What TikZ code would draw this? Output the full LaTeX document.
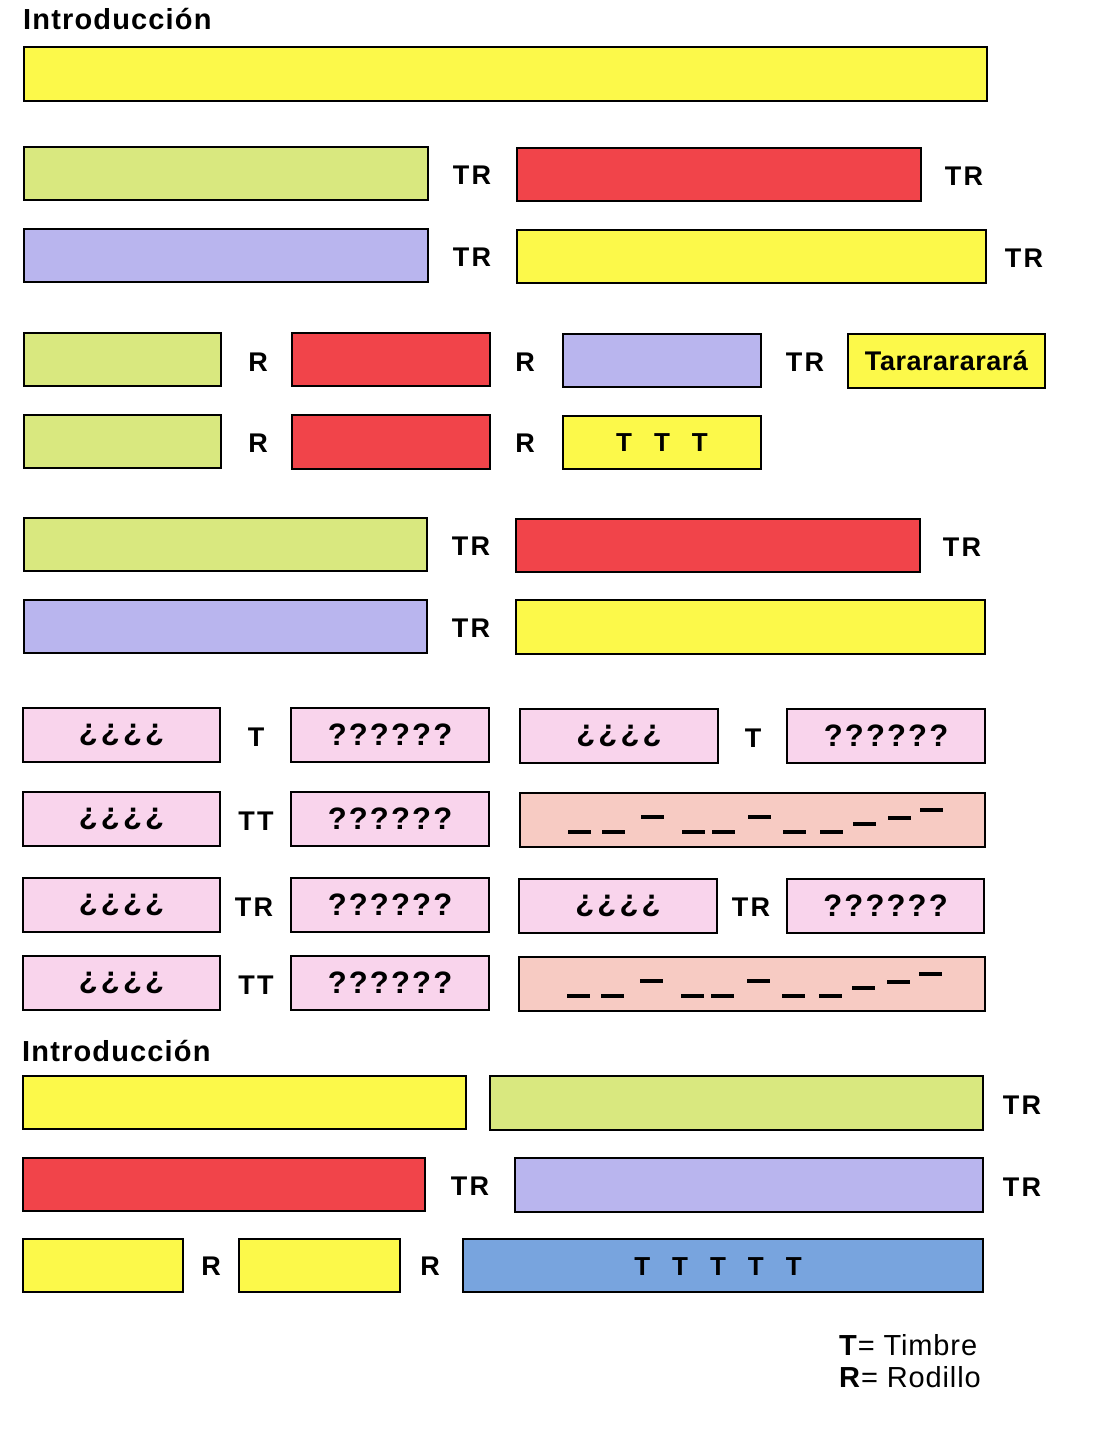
\documentclass[tikz,border=0pt]{standalone}
\usepackage{fontspec}
\setmainfont{Liberation Sans}
\definecolor{cy}{HTML}{FCF94A}
\definecolor{cg}{HTML}{D9E87F}
\definecolor{cr}{HTML}{F1444A}
\definecolor{cl}{HTML}{B9B5EE}
\definecolor{cp}{HTML}{F9D4EC}
\definecolor{cs}{HTML}{F7CBC3}
\definecolor{cb}{HTML}{78A4DE}
\newcommand\bx[7][]{\node[box,fill=#7,minimum width={(#5-#3)*1pt},minimum height={(#6-#4)*1pt},#1] (#2) at (#3,#4) {};}
\newcommand\bt[8][]{\node[box,fill=#7,minimum width={(#5-#3)*1pt},minimum height={(#6-#4)*1pt},#1] (#2) at (#3,#4) {#8};}
\begin{document}
\begin{tikzpicture}[x=1pt,y=-1pt,
  box/.style={draw=black,line width=2pt,inner sep=0pt,outer sep=0pt,anchor=north west,font=\bfseries\fontsize{31}{31}\selectfont\addfontfeature{LetterSpace=7}},
  inv/.style={font=\bfseries\fontsize{31}{31}\selectfont\addfontfeature{LetterSpace=10}},
  lab/.style={font=\bfseries\fontsize{27}{27}\selectfont\addfontfeature{LetterSpace=8},inner sep=0pt},
  ttl/.style={font=\bfseries\fontsize{29}{29}\selectfont\addfontfeature{LetterSpace=4},anchor=west,inner sep=0pt},
  dsh/.style={line width=4pt,line cap=butt},
  tt/.style={font=\bfseries\fontsize{26}{26}\selectfont}]
\useasboundingbox[fill=white] (0,0) rectangle (1117,1447);
\node[ttl] (t1) at (23,19) {Introducción};
% row 1
\bx{a1}{24}{47}{987}{101}{cy}
% row 2
\bx{b1}{24}{147}{428}{200}{cg}
\node[lab] (lb1) at (472,175) {TR};
\bx{b2}{517}{148}{921}{201}{cr}
\node[lab] (lb2) at (964,176) {TR};
% row 3
\bx{c1}{24}{229}{428}{282}{cl}
\node[lab] (lc1) at (472,257) {TR};
\bx{c2}{517}{230}{986}{283}{cy}
\node[lab] (lc2) at (1024,258) {TR};
% row 4
\bx{d1}{24}{333}{221}{386}{cg}
\node[lab] (ld1) at (258,362) {R};
\bx{d2}{292}{333}{490}{386}{cr}
\node[lab] (ld2) at (525,362) {R};
\bx{d3}{563}{334}{761}{387}{cl}
\node[lab] (ld3) at (805,362) {TR};
\bt[font=\bfseries\fontsize{27}{27}\selectfont\addfontfeature{LetterSpace=2}]{d4}{848}{334}{1045}{388}{cy}{Tararararará}
% row 5
\bx{e1}{24}{415}{221}{468}{cg}
\node[lab] (le1) at (258,443) {R};
\bx{e2}{292}{415}{490}{469}{cr}
\node[lab] (le2) at (525,443) {R};
\bt[font=\bfseries\fontsize{26}{26}\selectfont]{e3}{563}{416}{761}{469}{cy}{T\hspace{22pt}T\hspace{22pt}T}
% row 6
\bx{f1}{24}{518}{427}{571}{cg}
\node[lab] (lf1) at (471,546) {TR};
\bx{f2}{516}{519}{920}{572}{cr}
\node[lab] (lf2) at (962,547) {TR};
% row 7
\bx{g1}{24}{600}{427}{653}{cl}
\node[lab] (lg1) at (471,628) {TR};
\bx{g2}{516}{600}{985}{654}{cy}
% row 8
\bt[inv]{h1}{23}{708}{220}{762}{cp}{¿¿¿¿}
\node[lab] (lh1) at (256,737) {T};
\bt{h2}{291}{708}{489}{762}{cp}{??????}
\bt[inv]{h3}{520}{709}{718}{763}{cp}{¿¿¿¿}
\node[lab] (lh2) at (753,738) {T};
\bt{h4}{787}{709}{985}{763}{cp}{??????}
% row 9
\bt[inv]{i1}{23}{792}{220}{846}{cp}{¿¿¿¿}
\node[lab] (li1) at (256,821) {TT};
\bt{i2}{291}{792}{489}{846}{cp}{??????}
\bx{i3}{520}{793}{985}{847}{cs}
% row 10
\bt[inv]{j1}{23}{878}{220}{932}{cp}{¿¿¿¿}
\node[lab] (lj1) at (254,907) {TR};
\bt{j2}{291}{878}{489}{932}{cp}{??????}
\bt[inv]{j3}{519}{879}{717}{933}{cp}{¿¿¿¿}
\node[lab] (lj2) at (751,907) {TR};
\bt{j4}{787}{879}{984}{933}{cp}{??????}
% row 11
\bt[inv]{k1}{23}{956}{220}{1010}{cp}{¿¿¿¿}
\node[lab] (lk1) at (256,985) {TT};
\bt{k2}{291}{956}{489}{1010}{cp}{??????}
\bx{k3}{519}{957}{985}{1011}{cs}
% dashes
\foreach \bxn in {i3,k3}{
  \foreach \dx/\dy in {48/39,82/39,121/24,162/39,192/39,228/24,263/39,300/39,333/31,368/25,400/17}{
    \draw[dsh] (\bxn.north west) ++(\dx,\dy) -- ++(23,0);
  }
}
% second intro
\node[ttl] (t2) at (22,1051) {Introducción};
\bx{m1}{23}{1076}{466}{1129}{cy}
\bx{m2}{490}{1076}{983}{1130}{cg}
\node[lab] (lm1) at (1022,1105) {TR};
\bx{n1}{23}{1158}{425}{1211}{cr}
\node[lab] (ln1) at (470,1186) {TR};
\bx{n2}{515}{1158}{983}{1212}{cl}
\node[lab] (ln2) at (1022,1187) {TR};
\bx{o1}{23}{1239}{183}{1292}{cy}
\node[lab] (lo1) at (211,1266) {R};
\bx{o2}{239}{1239}{400}{1292}{cy}
\node[lab] (lo2) at (430,1266) {R};
\node[box,fill=cb,minimum width=520pt,minimum height=53pt] (o3) at (463,1239) {};
\node[tt] (o3t) at (718,1267) {T\hspace{22pt}T\hspace{22pt}T\hspace{22pt}T\hspace{22pt}T};
% legend
\node[anchor=west,inner sep=0pt,font=\fontsize{29}{29}\selectfont\addfontfeature{LetterSpace=3}] (leg1) at (839,1345) {\textbf{T}= Timbre};
\node[anchor=west,inner sep=0pt,font=\fontsize{29}{29}\selectfont\addfontfeature{LetterSpace=3}] (leg2) at (839,1377) {\textbf{R}= Rodillo};
\end{tikzpicture}
\end{document}
